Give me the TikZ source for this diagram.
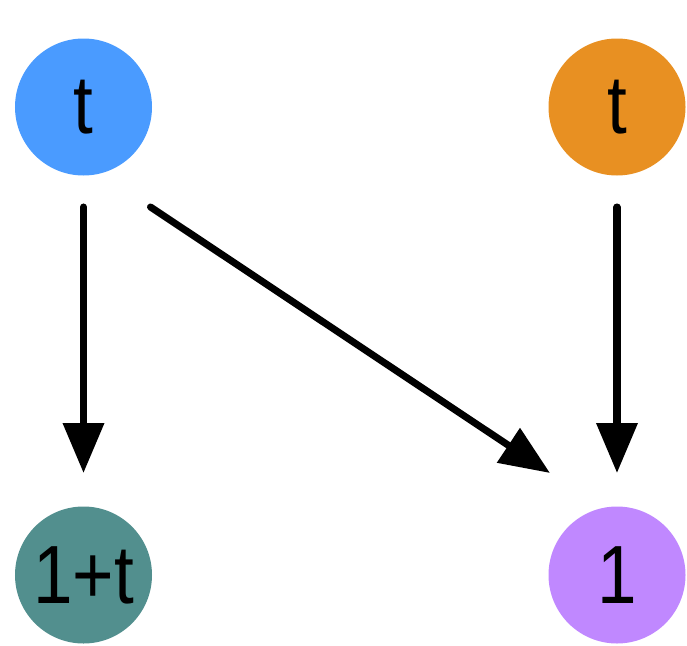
\documentclass[tikz,border=0pt]{standalone}
\usepackage{fontspec}
\setmainfont{Liberation Sans}[FakeStretch=0.86]
\usepackage{tikz}
\usetikzlibrary{arrows.meta,positioning}
\definecolor{skyblue}{HTML}{4A9BFF}
\definecolor{amber}{HTML}{E89022}
\definecolor{tealgray}{HTML}{528F8E}
\definecolor{lilac}{HTML}{C088FF}
\tikzset{
  vert/.style={circle, minimum size=2.74cm, inner sep=0pt, font=\fontsize{47}{56}\selectfont},
  ar/.style={-{Triangle[length=1cm, width=0.8cm]}, line width=4pt, line cap=round},
}

\begin{document}
\begin{tikzpicture}
  \useasboundingbox (0,0) rectangle (13.74,-12.9);
  \node[vert, fill=skyblue] (tl) at (1.67,-2.14) {t};
  \node[vert, fill=amber] (tr) at (12.34,-2.14) {t};
  \node[vert, fill=tealgray] (bl) at (1.67,-11.5) {1+t};
  \node[vert, fill=lilac] (br) at (12.34,-11.5) {1};
  \draw[ar] ([yshift=-2cm]tl.center) -- ([yshift=2.04cm]bl.center);
  \draw[ar] ([xshift=1.34cm, yshift=-2cm]tl.center) -- ([xshift=-1.34cm, yshift=2.04cm]br.center);
  \draw[ar] ([yshift=-2cm]tr.center) -- ([yshift=2.04cm]br.center);
\end{tikzpicture}
\end{document}
